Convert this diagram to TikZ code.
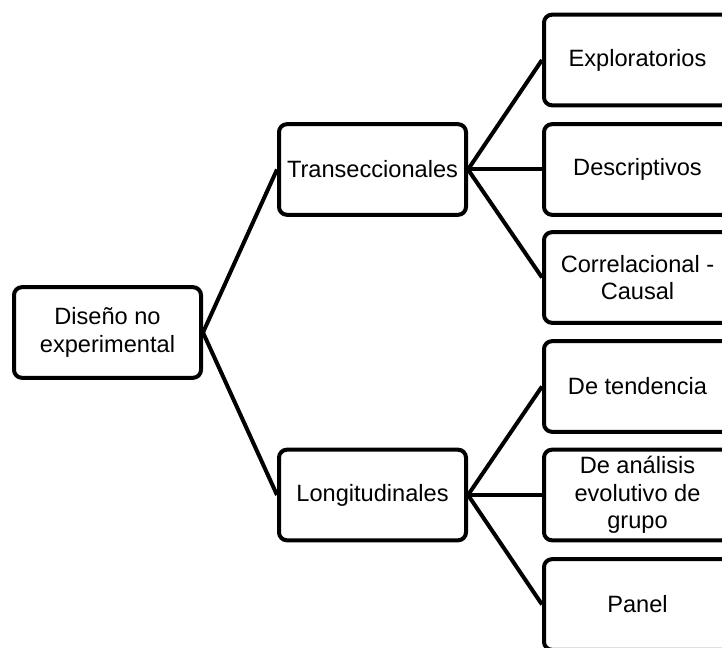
\documentclass[tikz,border=0pt]{standalone}
\usepackage{fontspec}
\setmainfont{Liberation Sans}
\begin{document}
\begin{tikzpicture}[x=0.75pt,y=-0.75pt,
  box/.style={draw=black,line width=3pt,rounded corners=6pt,fill=white,
    minimum width=140.25pt,minimum height=68pt,inner sep=0pt,align=center,
    font=\fontsize{17.7}{20.5}\selectfont},
  link/.style={draw=black,line width=3pt}]
\useasboundingbox (0,0) rectangle (722,648);
\node[box] (root) at (107.5,332.5) {Diseño no\\experimental};
\node[box] (trans) at (372.5,169.5) {Transeccionales};
\node[box] (long) at (372.5,495) {Longitudinales};
\node[box] (expl) at (637.5,60) {Exploratorios};
\node[box] (desc) at (637.5,169.5) {Descriptivos};
\node[box] (corr) at (637.5,277.5) {Correlacional -\\Causal};
\node[box] (tend) at (637.5,386.5) {De tendencia};
\node[box] (anal) at (637.5,495) {De análisis\\evolutivo de\\grupo};
\node[box] (panel) at (637.5,604.5) {Panel};
\draw[link] (root.east) -- (trans.west);
\draw[link] (root.east) -- (long.west);
\draw[link] (trans.east) -- (expl.west);
\draw[link] (trans.east) -- (desc.west);
\draw[link] (trans.east) -- (corr.west);
\draw[link] (long.east) -- (tend.west);
\draw[link] (long.east) -- (anal.west);
\draw[link] (long.east) -- (panel.west);
\end{tikzpicture}
\end{document}
